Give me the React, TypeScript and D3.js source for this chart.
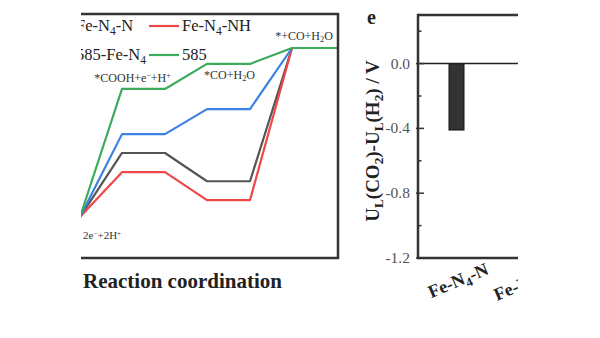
import React from "react";
import * as d3 from "d3";

const steps = ["*+CO2+2e-+2H+", "*COOH+e-+H+", "*CO+H2O", "*+CO+H2O"];
const seriesNames = ["Fe-N4-N", "Fe-N4-NH", "585-Fe-N4", "585"];
const seriesColors = ["#555555", "#ee4848", "#3b82e6", "#3cab5c"];
const energyFeN4N = [0, 0.197, 0.11, 0.52];
const energyFeN4NH = [0, 0.138, 0.052, 0.52];
const energy585FeN4 = [0, 0.255, 0.332, 0.52];
const energy585 = [0, 0.394, 0.471, 0.52];
const barCategories = ["Fe-N4-N", "Fe-N4-NH"];
const barValues = [-0.41, -0.45];
const majorTicks = [0.0, -0.4, -0.8, -1.2];
const minorTicks = [0.2, -0.2, -0.6, -1.0];

const SERIF = "'Liberation Serif', 'Times New Roman', serif";

function Sub({ t, s = "-30%" }: { t: string; s?: string }) {
  return (
    <tspan baselineShift={s} fontSize="70%">{t}</tspan>
  );
}
function Sup({ t, s = "45%" }: { t: string; s?: string }) {
  return (
    <tspan baselineShift={s} fontSize="65%">{t}</tspan>
  );
}

function FeName({ name }: { name: string }) {
  const parts = name.split("N4");
  if (parts.length === 1) return <>{name}</>;
  return (
    <>
      {parts[0]}N<Sub t="4" />{parts[1]}
    </>
  );
}

export default function App() {
  const W = 600, H = 338;
  // left panel
  const L = { x0: 81, x1: 338, y0: 14, y1: 258 };
  const xs = d3.scaleLinear().domain([0, 3]).range([37, 292]);
  const plateau = 43;
  const ys = d3.scaleLinear().domain([0, 0.52]).range([217, 48]);
  const allSeries = [energyFeN4N, energyFeN4NH, energy585FeN4, energy585];
  const drawOrder = [0, 1, 2, 3];

  const pathFor = (vals: number[]) => {
    const pts: [number, number][] = [];
    vals.forEach((v, i) => {
      const end = i === vals.length - 1 ? L.x1 : xs(i) + plateau;
      pts.push([xs(i), ys(v)]);
      pts.push([end, ys(v)]);
    });
    return d3.line()(pts) as string;
  };

  // right panel
  const R = { x0: 418, x1: 518, y0: 15, y1: 258 };
  const yb = d3.scaleLinear().domain([-1.2, 0.3]).range([R.y1, R.y0]);
  const xb = d3.scalePoint<string>().domain(barCategories).range([456.5, 456.5 + 72]);
  const barW = 15;

  const legendRows = [
    [0, 1],
    [2, 3],
  ];
  const legendRowY = [26, 55];

  return (
    <svg
      width={W}
      height={H}
      style={{ position: "absolute", left: 0, top: 0, background: "#fff" }}
      fontFamily={SERIF}
    >
      <defs>
        <clipPath id="clipL">
          <rect x={L.x0} y={0} width={L.x1 - L.x0 + 3} height={H} />
        </clipPath>
        <clipPath id="clipR">
          <rect x={340} y={0} width={R.x1 - 340} height={H} />
        </clipPath>
      </defs>
      <rect x={0} y={0} width={W} height={H} fill="#fff" />

      {/* LEFT PANEL */}
      <g clipPath="url(#clipL)">
        {drawOrder.map((si) => (
          <path
            key={si}
            d={pathFor(allSeries[si])}
            fill="none"
            stroke={seriesColors[si]}
            strokeWidth={2.2}
            strokeLinejoin="round"
          />
        ))}
        {/* legend */}
        {legendRows.map((row, ri) =>
          row.map((si, ci) => (
            <g key={si}>
              <line
                x1={ci === 0 ? 40 : 149}
                x2={ci === 0 ? 70 : 179}
                y1={legendRowY[ri]}
                y2={legendRowY[ri]}
                stroke={seriesColors[si]}
                strokeWidth={2.2}
              />
              <text
                x={ci === 0 ? 76 : 182}
                y={legendRowY[ri] + 5}
                fontSize={16.5}
                fill="#222"
              >
                <FeName name={seriesNames[si]} />
              </text>
            </g>
          ))
        )}
        {/* step annotations */}
        <text x={83} y={239} fontSize={11} fill="#333">
          2e<Sup t="−" />+2H<Sup t="+" />
        </text>
        <text x={xs(1) + plateau / 2 - 11} y={ys(energy585[1]) - 7} fontSize={12} fill="#333" textAnchor="middle">
          *COOH+e<Sup t="−" />+H<Sup t="+" />
        </text>
        <text x={xs(2) + plateau / 2 + 1} y={ys(energy585[2]) + 15} fontSize={12} fill="#333" textAnchor="middle">
          *CO+H<Sub t="2" />O
        </text>
        <text x={xs(3) + 12} y={ys(energy585[3]) - 8} fontSize={12} fill="#333" textAnchor="middle">
          *+CO+H<Sub t="2" />O
        </text>
      </g>
      {/* frame */}
      <path
        d={`M${L.x0},${L.y0}H${L.x1}V${L.y1}H${L.x0}`}
        fill="none"
        stroke="#333"
        strokeWidth={2.5}
      />
      <text x={83} y={288} fontSize={21} fontWeight="bold" fill="#222">
        Reaction coordination
      </text>

      {/* RIGHT PANEL */}
      <text x={367} y={24} fontSize={20} fontWeight="bold" fill="#222">e</text>
      <g clipPath="url(#clipR)">
        {barCategories.map((c, i) => (
          <rect
            key={c}
            x={(xb(c) as number) - barW / 2}
            y={yb(0)}
            width={barW}
            height={yb(barValues[i]) - yb(0)}
            fill="#333"
            stroke="#111"
            strokeWidth={1}
          />
        ))}
        <line x1={R.x0} x2={R.x1 + 5} y1={yb(0)} y2={yb(0)} stroke="#222" strokeWidth={1.5} />
        <line x1={R.x0} x2={R.x1 + 5} y1={R.y0} y2={R.y0} stroke="#333" strokeWidth={2.5} />
        <line x1={R.x0} x2={R.x1 + 5} y1={R.y1} y2={R.y1} stroke="#333" strokeWidth={2.5} />
        {barCategories.map((c) => (
          <text
            key={c}
            transform={`translate(${(xb(c) as number) + 4},${286}) rotate(-23)`}
            textAnchor="middle"
            fontSize={18}
            fontWeight="bold"
            fill="#222"
          >
            <FeName name={c} />
          </text>
        ))}
      </g>
      <line x1={R.x0} x2={R.x0} y1={R.y0 - 1.2} y2={R.y1 + 1.2} stroke="#333" strokeWidth={2.5} />
      {majorTicks.map((t) => (
        <g key={t}>
          <line x1={R.x0 - 2} x2={R.x0 + 6} y1={yb(t)} y2={yb(t)} stroke="#333" strokeWidth={1.5} />
          <text x={R.x0 - 8} y={yb(t) + 5} fontSize={15.5} textAnchor="end" fill="#555">
            {d3.format(".1f")(t).replace("−", "-")}
          </text>
        </g>
      ))}
      {minorTicks.map((t) => (
        <line key={t} x1={R.x0} x2={R.x0 + 3.5} y1={yb(t)} y2={yb(t)} stroke="#333" strokeWidth={1.5} />
      ))}
      <text
        transform={`translate(379,141) rotate(-90)`}
        textAnchor="middle"
        fontSize={19}
        fontWeight="bold"
        fill="#222"
      >
        U<Sub t="L" />(CO<Sub t="2" />)-U<Sub t="L" />(H<Sub t="2" />) / V
      </text>
    </svg>
  );
}
